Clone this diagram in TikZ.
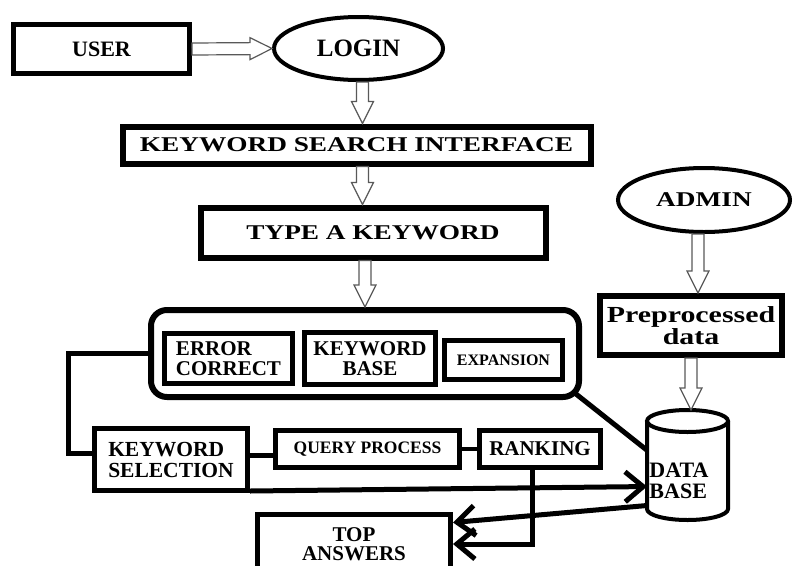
\documentclass[tikz,border=0pt]{standalone}
\usepackage{fontspec}
\setmainfont{Liberation Serif}
\newfontfamily\widefont[FakeStretch=1.3]{Liberation Serif}
\usepackage{tikz}
\usetikzlibrary{calc,positioning,shapes}
\usetikzlibrary{arrows.meta}
\tikzset{>={Straight Barb[length=18pt,width=30pt]}}

\begin{document}
\begin{tikzpicture}[x=1pt,y=-1pt]
      \tikzstyle{rnode} = [draw=black, rectangle, line width=5pt, inner sep=2pt, align=center, font=\bfseries\fontsize{21}{20}\selectfont]
      \tikzstyle{enode} = [draw=black, ellipse, line width=4pt, inner sep=0pt, font=\bfseries\fontsize{21}{21}\selectfont]
      \tikzstyle{link} = [black, line width=5pt]
      % open block arrow between two points
      \tikzstyle{hollow} = [draw=gray!70!black, line width=1.2pt, fill=white,
        to path={let \p1=(\tikztostart), \p2=(\tikztotarget),
          \n1={veclen(\x2-\x1,\y2-\y1)}, \n2={atan2(\y2-\y1,\x2-\x1)},
          \n3={\n2+90}, \n4={\n2-90} in
          ($(\p1)+(\n3:6pt)$) -- ($(\p1)+(\n2:{\n1*1pt-22pt})+(\n3:6pt)$)
          -- ($(\p1)+(\n2:{\n1*1pt-22pt})+(\n3:11pt)$) -- (\p2)
          -- ($(\p1)+(\n2:{\n1*1pt-22pt})+(\n4:11pt)$)
          -- ($(\p1)+(\n2:{\n1*1pt-22pt})+(\n4:6pt)$) -- ($(\p1)+(\n4:6pt)$) -- cycle}]

      \clip (0,0) rectangle (794,565);

      \node[rnode, minimum width=176pt, minimum height=49pt, font=\bfseries\fontsize{22}{22}\selectfont] (user) at (101.5,49) {USER};
      \node[enode, minimum width=169pt, minimum height=63pt, font=\bfseries\fontsize{25}{25}\selectfont] (login) at (358.5,48.5) {LOGIN};
      \node[rnode, line width=6pt, minimum width=468pt, minimum height=37pt, font=\widefont\bfseries\fontsize{21}{21}\selectfont] (ksi) at (356.5,145) {KEYWORD SEARCH INTERFACE};
      \node[rnode, line width=6pt, minimum width=345pt, minimum height=50pt, font=\widefont\bfseries\fontsize{21}{21}\selectfont] (type) at (373,232.5) {TYPE A KEYWORD};

      \node[draw=black, rectangle, rounded corners=16pt, line width=6pt, minimum width=428pt, minimum height=87pt] (group) at (365,353.5) {};
      \node[rnode, align=left, minimum width=128pt, minimum height=50pt] (err) at (228.5,358.5) {ERROR\\CORRECT};
      \node[rnode, minimum width=131pt, minimum height=52pt] (kbase) at (370,358.5) {KEYWORD\\BASE};
      \node[rnode, minimum width=118pt, minimum height=39pt, font=\bfseries\fontsize{16}{16}\selectfont] (expn) at (503.5,360) {EXPANSION};

      \node[rnode, align=left, minimum width=153pt, minimum height=62pt, font=\bfseries\fontsize{21.5}{21}\selectfont] (ksel) at (171,459.5) {KEYWORD\\SELECTION};
      \node[rnode, minimum width=184pt, minimum height=37pt, font=\bfseries\fontsize{17.5}{17.5}\selectfont] (qp) at (367.5,449) {QUERY PROCESS};
      \node[rnode, minimum width=121pt, minimum height=37pt] (rank) at (540,449) {RANKING};
      \node[rnode, minimum width=193pt, minimum height=60pt, font=\bfseries\fontsize{21}{19}\selectfont] (top) at (354,544) {TOP\\ANSWERS};

      \node[enode, minimum width=172pt, minimum height=64pt, font=\widefont\bfseries\fontsize{21}{21}\selectfont] (admin) at (704,200) {ADMIN};
      \node[rnode, line width=6pt, minimum width=182pt, minimum height=59pt, font=\widefont\bfseries\fontsize{23}{22}\selectfont] (prep) at (691,325.5) {Preprocessed\\data};

      % data base drum
      \node[rectangle, outer sep=0pt, minimum width=81pt, minimum height=110pt] (db) at (687.5,465) {};
      \draw[line width=4pt] ([yshift=-11pt]db.north west) -- ([yshift=11pt]db.south west)
        arc[start angle=180, end angle=360, x radius=40.5pt, y radius=11pt] -- ([yshift=-11pt]db.north east);
      \draw[line width=4pt] ([yshift=-11pt]db.north) ellipse [x radius=40.5pt, y radius=11pt];
      \node[align=left, inner sep=0pt, font=\bfseries\fontsize{22}{21}\selectfont] (dbtxt) at (679,481) {DATA\\BASE};

      \draw[hollow] (user.east) to (login.west);
      \draw[hollow] ([xshift=4pt]login.south) to ([xshift=4pt]login.south |- ksi.north);
      \draw[hollow] ([xshift=6pt]ksi.south) to ([xshift=6pt]ksi.south |- type.north);
      \draw[hollow] (group.north |- type.south) to (group.north);
      \draw[hollow] ([xshift=-6pt]admin.south) to ([xshift=-6pt]admin.south |- prep.north);
      \draw[hollow] (prep.south) to (prep.south |- db.north);

      \draw[link] (group.west) -- ++(-80,0) |- ([yshift=6.5pt]ksel.west);
      \draw[link] ([yshift=4pt]ksel.east) -- ([yshift=4pt]ksel.east -| qp.west);
      \draw[link, line width=4pt] (qp.east) -- (rank.west);
      \draw[link] ([shift={(-6pt,6pt)}]group.south east) -- (db.160);
      \draw[link,->] ([yshift=2pt]ksel.south east) -- (db.208);
      \draw[link,->] (db.225) -- ([yshift=-11pt]top.north east);
      \draw[link,->] ([xshift=-8pt]rank.south) |- (top.east);

    \end{tikzpicture}
\end{document}
